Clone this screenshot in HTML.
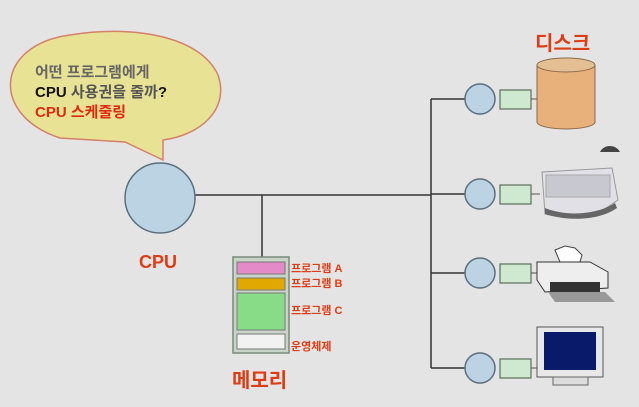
<!DOCTYPE html>
<html><head><meta charset="utf-8"><style>
body{margin:0;background:#e4e4e4;}
svg{display:block}
text{font-family:"Liberation Sans","Noto Sans CJK KR",sans-serif;font-weight:bold}
</style></head><body>
<svg width="639" height="407" viewBox="0 0 639 407">
<rect width="639" height="407" fill="#e4e4e4"/>
<!-- bubble -->
<path d="M60,138 C-10,115 -5,45 70,35 C130,25 200,35 218,75 C230,110 200,135 163,140 L163,160 L125,142 Z" fill="#e8e394" stroke="#d4806a" stroke-width="1.5"/>
<text x="35" y="77" font-size="15" fill="#666">어떤 프로그램에게</text>
<text x="35" y="97" font-size="15" fill="#111">CPU <tspan fill="#555">사용권을 줄까</tspan>?</text>
<text x="35" y="117" font-size="15" fill="#e02a10">CPU 스케줄링</text>
<!-- lines -->
<line x1="195" y1="195" x2="431" y2="195" stroke="#333" stroke-width="1.5"/>
<line x1="262" y1="195" x2="262" y2="257" stroke="#333" stroke-width="1.5"/>
<line x1="431" y1="99" x2="431" y2="368" stroke="#333" stroke-width="1.5"/>
<g stroke="#333" stroke-width="1.5">
<line x1="431" y1="99" x2="466" y2="99"/><line x1="431" y1="194" x2="466" y2="194"/>
<line x1="431" y1="273" x2="466" y2="273"/><line x1="431" y1="368" x2="466" y2="368"/>
</g>
<!-- CPU -->
<circle cx="160" cy="198" r="35" fill="#bcd3e3" stroke="#5a6f7e" stroke-width="1.5"/>
<text x="139" y="268" font-size="18" fill="#e03c14">CPU</text>
<!-- memory -->
<rect x="233" y="257" width="56" height="96" fill="#c8d4c8" stroke="#7a8a7a" stroke-width="1.5"/>
<rect x="237" y="262" width="48" height="12" fill="#e48ac8" stroke="#777"/>
<rect x="237" y="278" width="48" height="12" fill="#e0a800" stroke="#777"/>
<rect x="237" y="293" width="48" height="37" fill="#88dc88" stroke="#777"/>
<rect x="237" y="334" width="48" height="15" fill="#f2f2f2" stroke="#777"/>
<g font-size="11" fill="#e03c14">
<text x="291" y="272">프로그램 A</text>
<text x="291" y="287">프로그램 B</text>
<text x="291" y="314">프로그램 C</text>
<text x="291" y="350">운영체제</text>
</g>
<text x="232" y="387" font-size="20" fill="#e03c14">메모리</text>
<!-- device controllers -->
<g fill="#bcd3e3" stroke="#5a6f7e" stroke-width="1.5">
<circle cx="480" cy="99" r="15"/><circle cx="480" cy="194" r="15"/>
<circle cx="480" cy="273" r="15"/><circle cx="480" cy="368" r="15"/>
</g>
<g fill="#cfe8d0" stroke="#5a6f5a" stroke-width="1.2">
<rect x="500" y="90" width="31" height="19"/><rect x="500" y="185" width="31" height="19"/>
<rect x="500" y="264" width="31" height="19"/><rect x="500" y="359" width="31" height="19"/>
</g>
<g stroke="#555"><line x1="531" y1="99" x2="537" y2="99"/><line x1="531" y1="194" x2="540" y2="194"/><line x1="531" y1="273" x2="537" y2="273"/><line x1="531" y1="368" x2="537" y2="368"/></g>
<!-- disk -->
<text x="535" y="50" font-size="20" fill="#e03c14">디스크</text>
<path d="M537,65 L537,122 A29,7 0 0 0 595,122 L595,65" fill="#e8b07a" stroke="#8a6a4a"/>
<ellipse cx="566" cy="65" rx="29" ry="7" fill="#e5bf94" stroke="#8a6a4a"/>
<!-- keyboard -->
<path d="M600,152 C603,145 615,143 620,152 Z" fill="#444"/>
<path d="M542,172 L612,168 L618,200 L600,212 C580,216 560,218 545,214 Z" fill="#e0e0e6" stroke="#999"/>
<rect x="546" y="175" width="64" height="22" fill="#c8c8d0" stroke="#aaa"/>
<path d="M545,208 C570,218 600,213 615,203 L617,208 C600,220 570,222 545,214 Z" fill="#666"/>
<!-- printer -->
<path d="M555,250 L565,246 L575,248 L582,255 L580,262 L560,262 Z" fill="#fff" stroke="#444"/>
<path d="M537,262 L590,262 L608,272 L608,288 L545,292 L537,280 Z" fill="#eee" stroke="#333"/>
<rect x="550" y="282" width="50" height="10" fill="#333"/>
<path d="M548,292 L605,292 L615,302 L555,302 Z" fill="#999"/>
<!-- monitor -->
<rect x="537" y="327" width="66" height="50" fill="#e8e8e8" stroke="#555"/>
<rect x="544" y="332" width="52" height="38" fill="#0a1a6a"/>
<rect x="553" y="377" width="35" height="8" fill="#ddd" stroke="#666"/>
</svg>
</body></html>
